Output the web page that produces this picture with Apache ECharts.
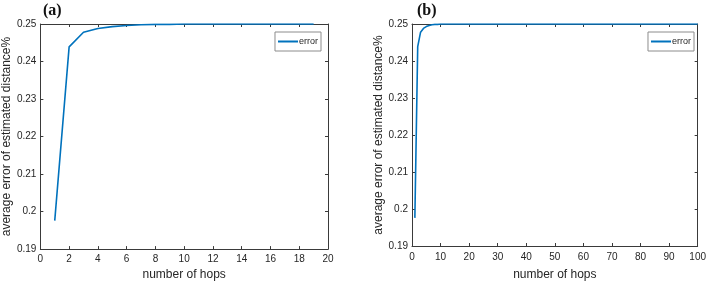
<!DOCTYPE html>
<html><head><meta charset="utf-8">
<script src="https://cdn.jsdelivr.net/npm/echarts@6/dist/echarts.min.js"></script>
<style>html,body{margin:0;padding:0;background:#fff}#c{width:709px;height:286px}</style>
</head><body><div id="c"></div>
<script>
// Panel (a): hops 1..19
const hopsA = [1,2,3,4,5,6,7,8,9,10,11,12,13,14,15,16,17,18,19];
const errorA = [0.1976,0.2439,0.2478,0.2488,0.2493,0.2496,0.2498,0.2499,0.2499,0.25,0.25,0.25,0.25,0.25,0.25,0.25,0.25,0.25,0.25];
// Panel (b): hops 1..100
const hopsB = [1,2,3,4,5,6,7,8,9,10,11,12,13,14,15,16,17,18,19,20,21,22,23,24,25,26,27,28,29,30,31,32,33,34,35,36,37,38,39,40,41,42,43,44,45,46,47,48,49,50,51,52,53,54,55,56,57,58,59,60,61,62,63,64,65,66,67,68,69,70,71,72,73,74,75,76,77,78,79,80,81,82,83,84,85,86,87,88,89,90,91,92,93,94,95,96,97,98,99,100];
const errorB = [0.1976,0.2439,0.2478,0.2488,0.2493,0.2496,0.2498,0.2499,0.2499,0.25,0.25,0.25,0.25,0.25,0.25,0.25,0.25,0.25,0.25,0.25,0.25,0.25,0.25,0.25,0.25,0.25,0.25,0.25,0.25,0.25,0.25,0.25,0.25,0.25,0.25,0.25,0.25,0.25,0.25,0.25,0.25,0.25,0.25,0.25,0.25,0.25,0.25,0.25,0.25,0.25,0.25,0.25,0.25,0.25,0.25,0.25,0.25,0.25,0.25,0.25,0.25,0.25,0.25,0.25,0.25,0.25,0.25,0.25,0.25,0.25,0.25,0.25,0.25,0.25,0.25,0.25,0.25,0.25,0.25,0.25,0.25,0.25,0.25,0.25,0.25,0.25,0.25,0.25,0.25,0.25,0.25,0.25,0.25,0.25,0.25,0.25,0.25,0.25,0.25,0.25];
const yTicks = {min:0.19, max:0.25, interval:0.01};
const xTicksA = {min:0, max:20, interval:2};
const xTicksB = {min:0, max:100, interval:10};
const panelLabels = ['(a)','(b)'];
const seriesName = 'error';
const xTitle = 'number of hops';
const yTitle = 'average error of estimated distance%';

const axisCol = '#3a3a3a', txtCol = '#262626', lineCol = '#0072BD';
const font = 'Liberation Sans, Arial, sans-serif';
const chart = echarts.init(document.getElementById('c'));

function xAx(grid, t, pos, gap, lblMargin){
  const main = pos === 'bottom';
  return {type:'value', gridIndex:grid, position:pos, min:t.min, max:t.max, interval:t.interval,
    axisLine:{show:true, onZero:false, lineStyle:{color:axisCol, width:1}},
    axisTick:{show:true, inside:true, length:3, lineStyle:{color:axisCol}},
    axisLabel:{show:main, color:txtCol, fontSize:10, fontFamily:font, margin:lblMargin||5},
    splitLine:{show:false},
    name: main ? xTitle : '', nameLocation:'middle', nameGap:gap,
    nameTextStyle:{color:txtCol, fontSize:12, fontFamily:font}};
}
function yAx(grid, pos, gap){
  const main = pos === 'left';
  return {type:'value', gridIndex:grid, position:pos, min:yTicks.min, max:yTicks.max, interval:yTicks.interval,
    axisLine:{show:true, onZero:false, lineStyle:{color:axisCol, width:1}},
    axisTick:{show:true, inside:true, length:3, lineStyle:{color:axisCol}},
    axisLabel:{show:main, color:txtCol, fontSize:10, fontFamily:font, margin:4,
      formatter: v => String(parseFloat(v.toFixed(2)))},
    splitLine:{show:false},
    name: main ? yTitle : '', nameLocation:'middle', nameGap:gap, nameRotate:90,
    nameTextStyle:{color:txtCol, fontSize:12, fontFamily:font}};
}

chart.setOption({
  animation:false,
  backgroundColor:'#fff',
  grid:[
    {left:39, top:24, width:289, height:228},
    {left:412, top:24, width:290, height:228}
  ],
  xAxis:[xAx(0,xTicksA,'bottom',17,5), xAx(0,xTicksA,'top',0), xAx(1,xTicksB,'bottom',23,6), xAx(1,xTicksB,'top',0)],
  yAxis:[yAx(0,'left',27), yAx(0,'right',0), yAx(1,'left',27), yAx(1,'right',0)],
  legend:[
    {data:[seriesName], right:388, top:32, orient:'vertical', icon:'rect', itemWidth:20, itemHeight:2, itemGap:0,
     padding:[5,3,5,3], borderColor:'#8c8c8c', borderWidth:1, backgroundColor:'#fff',
     textStyle:{color:txtCol, fontSize:9, fontFamily:font, padding:[0,0,0,-4]}},
    {data:[seriesName], right:15, top:32, orient:'vertical', icon:'rect', itemWidth:20, itemHeight:2, itemGap:0,
     padding:[5,3,5,3], borderColor:'#8c8c8c', borderWidth:1, backgroundColor:'#fff',
     textStyle:{color:txtCol, fontSize:9, fontFamily:font, padding:[0,0,0,-4]}}
  ],
  title:[
    {text:panelLabels[0], left:43, top:3, padding:0, textStyle:{fontFamily:'Liberation Serif, Times New Roman, serif', fontWeight:'bold', fontSize:16, color:'#111'}},
    {text:panelLabels[1], left:417, top:3, padding:0, textStyle:{fontFamily:'Liberation Serif, Times New Roman, serif', fontWeight:'bold', fontSize:16, color:'#111'}}
  ],
  series:[
    {name:seriesName, type:'line', xAxisIndex:0, yAxisIndex:0, showSymbol:false, symbol:'none',
     lineStyle:{color:lineCol, width:1.6}, itemStyle:{color:lineCol},
     data: hopsA.map((h,i)=>[h, errorA[i]])},
    {name:seriesName, type:'line', xAxisIndex:2, yAxisIndex:2, showSymbol:false, symbol:'none',
     lineStyle:{color:lineCol, width:1.6}, itemStyle:{color:lineCol},
     data: hopsB.map((h,i)=>[h, errorB[i]])}
  ]
});
</script></body></html>
